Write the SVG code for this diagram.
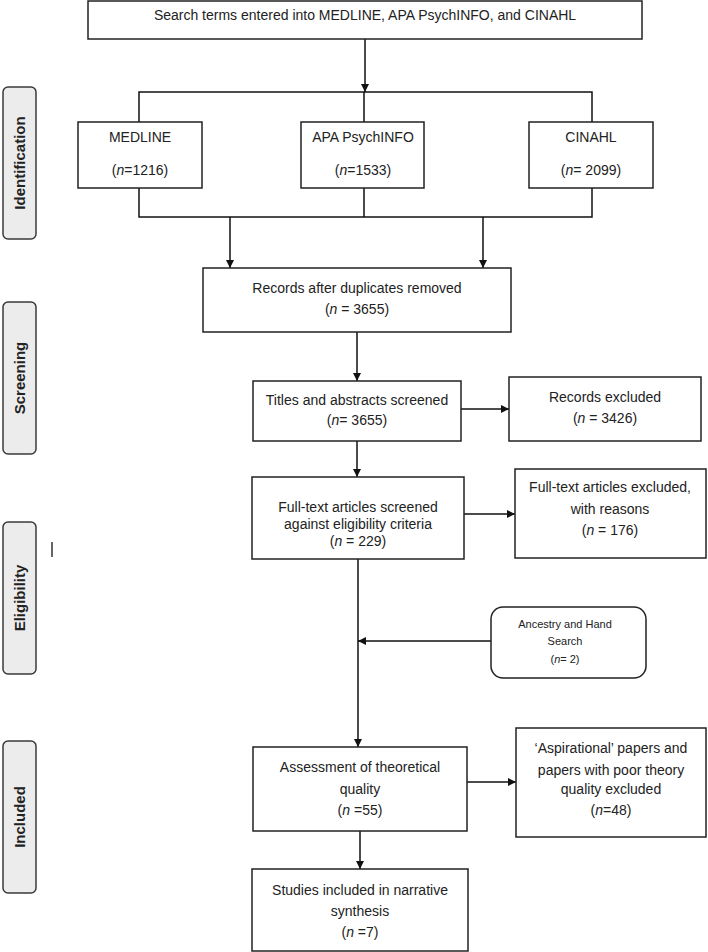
<svg xmlns="http://www.w3.org/2000/svg" width="708" height="952" viewBox="0 0 708 952">
<defs>
<style>
.box{fill:#fff;stroke:#222;stroke-width:1.5}
.lab{fill:#ececec;stroke:#3a3a3a;stroke-width:1.5}
.t{font-family:"Liberation Sans",Arial,sans-serif;font-size:14px;fill:#222;text-anchor:middle}
.s{font-size:11px}
.lt{font-family:"Liberation Sans",Arial,sans-serif;font-size:15px;font-weight:bold;fill:#222;text-anchor:middle}
.c{fill:none;stroke:#111;stroke-width:1.5}
.i{font-style:italic}
</style>
<marker id="ah" viewBox="0 0 10 10" refX="10" refY="5" markerWidth="8" markerHeight="8" markerUnits="userSpaceOnUse" orient="auto">
<path d="M0,0 L10,5 L0,10 z" fill="#111"/>
</marker>
</defs>
<rect width="708" height="952" fill="#fff"/>

<g id="label-identification"><rect class="lab" x="3" y="87" width="33" height="152" rx="5"/><text class="lt" transform="translate(25,163) rotate(-90)">Identification</text></g>
<g id="label-screening"><rect class="lab" x="3" y="302" width="33" height="152" rx="5"/><text class="lt" transform="translate(25,378) rotate(-90)">Screening</text></g>
<g id="label-eligibility"><rect class="lab" x="3" y="522" width="33" height="152" rx="5"/><text class="lt" transform="translate(25,598) rotate(-90)">Eligibility</text></g>
<g id="label-included"><rect class="lab" x="3" y="741" width="33" height="152" rx="5"/><text class="lt" transform="translate(25,817) rotate(-90)">Included</text></g>
<line x1="52" y1="542" x2="52" y2="557" stroke="#333" stroke-width="1.5"/>

<g id="connectors">
<path class="c" d="M365,39 V92" marker-end="url(#ah)"/>
<path class="c" d="M139,122 V92 H592 V122 M364,92 V122"/>
<path class="c" d="M139,188 V217 H592 V188 M364,188 V217"/>
<path class="c" d="M230,217 V268" marker-end="url(#ah)"/>
<path class="c" d="M483,217 V268" marker-end="url(#ah)"/>
<path class="c" d="M357,332 V381" marker-end="url(#ah)"/>
<path class="c" d="M461,409 H509" marker-end="url(#ah)"/>
<path class="c" d="M357,441 V477" marker-end="url(#ah)"/>
<path class="c" d="M464,514 H515" marker-end="url(#ah)"/>
<path class="c" d="M358,559 V747" marker-end="url(#ah)"/>
<path class="c" d="M491,641 H358" marker-end="url(#ah)"/>
<path class="c" d="M467,782 H516" marker-end="url(#ah)"/>
<path class="c" d="M360,831 V869" marker-end="url(#ah)"/>
</g>

<g id="search"><rect class="box" x="88" y="1" width="554" height="38"/><text class="t" x="365" y="20">Search terms entered into MEDLINE, APA PsychINFO, and CINAHL</text></g>
<g id="medline"><rect class="box" x="78" y="122" width="124" height="66"/><text class="t" x="140" y="142">MEDLINE</text><text class="t" x="140" y="175">(<tspan class="i">n</tspan>=1216)</text></g>
<g id="psychinfo"><rect class="box" x="301" y="122" width="123" height="66"/><text class="t" x="363" y="142">APA PsychINFO</text><text class="t" x="363" y="175">(<tspan class="i">n</tspan>=1533)</text></g>
<g id="cinahl"><rect class="box" x="529" y="122" width="124" height="66"/><text class="t" x="591" y="142">CINAHL</text><text class="t" x="591" y="175">(<tspan class="i">n</tspan>= 2099)</text></g>
<g id="duplicates"><rect class="box" x="203" y="268" width="308" height="64"/><text class="t" x="357" y="293">Records after duplicates removed</text><text class="t" x="357" y="314">(<tspan class="i">n</tspan> = 3655)</text></g>
<g id="titles"><rect class="box" x="253" y="381" width="208" height="60"/><text class="t" x="357" y="405">Titles and abstracts screened</text><text class="t" x="357" y="425">(<tspan class="i">n</tspan>= 3655)</text></g>
<g id="excluded1"><rect class="box" x="509" y="377" width="192" height="64"/><text class="t" x="605" y="402">Records excluded</text><text class="t" x="605" y="423">(<tspan class="i">n</tspan> = 3426)</text></g>
<g id="fulltext"><rect class="box" x="252" y="477" width="212" height="82"/><text class="t" x="358" y="512">Full-text articles screened</text><text class="t" x="358" y="529">against eligibility criteria</text><text class="t" x="358" y="546">(<tspan class="i">n</tspan> = 229)</text></g>
<g id="excluded2"><rect class="box" x="515" y="469" width="191" height="89"/><text class="t" x="610" y="492">Full-text articles excluded,</text><text class="t" x="610" y="514">with reasons</text><text class="t" x="610" y="535">(<tspan class="i">n</tspan> = 176)</text></g>
<g id="ancestry"><rect class="box" x="491" y="607" width="155" height="71" rx="12"/><text class="t s" x="565" y="628">Ancestry and Hand</text><text class="t s" x="565" y="645">Search</text><text class="t s" x="565" y="663">(<tspan class="i">n</tspan>= 2)</text></g>
<g id="assessment"><rect class="box" x="253" y="747" width="214" height="84"/><text class="t" x="360" y="772">Assessment of theoretical</text><text class="t" x="360" y="794">quality</text><text class="t" x="360" y="815">(<tspan class="i">n</tspan> =55)</text></g>
<g id="aspirational"><rect class="box" x="516" y="728" width="190" height="109"/><text class="t" x="611" y="753">‘Aspirational’ papers and</text><text class="t" x="611" y="775">papers with poor theory</text><text class="t" x="611" y="794">quality excluded</text><text class="t" x="611" y="815">(<tspan class="i">n</tspan>=48)</text></g>
<g id="studies"><rect class="box" x="252" y="869" width="216" height="82"/><text class="t" x="360" y="895">Studies included in narrative</text><text class="t" x="360" y="916">synthesis</text><text class="t" x="360" y="937">(<tspan class="i">n</tspan> =7)</text></g>
</svg>
